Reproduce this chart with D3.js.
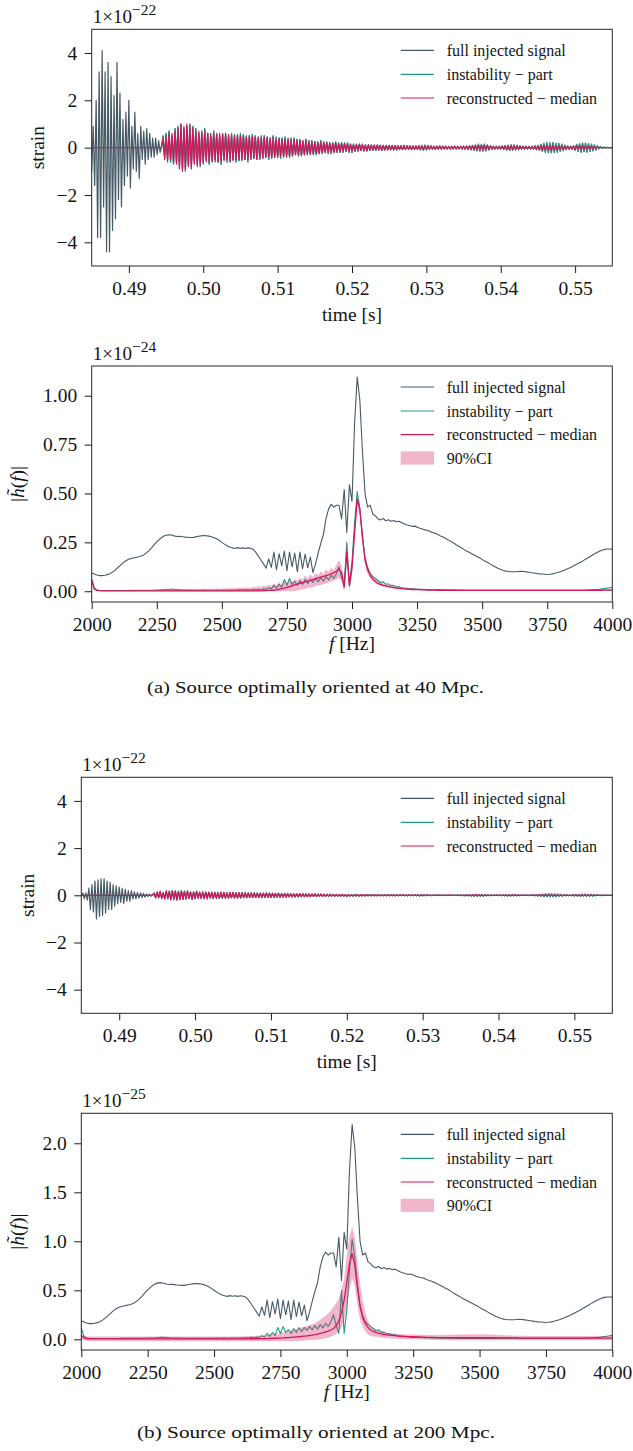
<!DOCTYPE html>
<html>
<head>
<meta charset="utf-8">
<script src="https://cdn.jsdelivr.net/npm/d3@7"></script>
<style>
  html, body { margin: 0; padding: 0; background: #ffffff; }
  svg text { font-family: "Liberation Serif", "Times New Roman", serif; fill: #141414; }
</style>
</head>
<body>
<script>
// ---------------- time-domain strain (units of 1e-22), one sample every strainDt s ----------------
const strainT0 = 0.485;
const strainDt = 0.0002;

// 40 Mpc: signal before the instability onset
const onset40 = [
  -1.0,0.9,-1.6,2.0,-3.8,3.2,-3.8,4.1,-2.5,3.2,-4.4,3.6,
  -4.4,3.0,-3.5,2.2,-3.0,3.6,-2.2,2.3,-2.5,1.2,-1.6,1.5,
  -1.2,2.0,-1.7,0.9,-0.9,1.5,-1.0,0.6,-1.3,0.9,-0.5,0.7,
  -0.7,0.8,-0.5,0.6,-0.4,0.4,-0.4,0.4,-0.3,0.3,-0.2,0.1
];
// 40 Mpc: injected instability part
const inst40 = [
  0,0,0,0,0,0,0,0,0,0,0,0, 0,0,0,0,0,0,0,0,0,0,0,0,
  0,0,0,0,0,0,0,0,0,0,0,0, 0,0,0,0,0,0,0,0,0,0,0,0,
  0.5,-0.4,0.6,-0.5,0.7,-0.6,0.5,-0.7,0.8,-0.6,
  0.9,-0.8,1.0,-0.9,0.8,-1.0,0.9,-0.7,1.0,-0.8,
  0.9,-0.6,0.8,-0.7,0.6,-0.8,0.7,-0.6,0.8,-0.5,
  0.6,-0.7,0.5,-0.6,0.7,-0.5,0.6,-0.6,0.5,-0.7,
  0.6,-0.5,0.6,-0.6,0.5,-0.6,0.6,-0.5,0.55,-0.6,
  0.5,-0.55,0.6,-0.5,0.55,-0.5,0.5,-0.6,0.5,-0.5,
  0.55,-0.45,0.5,-0.5,0.45,-0.5,0.5,-0.45,0.5,-0.4,
  0.45,-0.5,0.4,-0.45,0.5,-0.4,0.45,-0.4,0.4,-0.45,
  0.4,-0.35,0.45,-0.4,0.35,-0.4,0.4,-0.35,0.4,-0.3,
  0.35,-0.35,0.3,-0.35,0.3,-0.3,0.35,-0.3,0.3,-0.25,
  0.3,-0.3,0.25,-0.3,0.25,-0.25,0.3,-0.25,0.25,-0.2,
  0.25,-0.25,0.2,-0.25,0.2,-0.2,0.25,-0.2,0.2,-0.2,
  0.2,-0.2,0.2,-0.15,0.2,-0.2,0.15,-0.2,0.15,-0.15,
  0.15,-0.15,0.15,-0.12,0.15,-0.15,0.12,-0.15,0.12,-0.12,
  0.12,-0.12,0.1,-0.12,0.12,-0.1,0.1,-0.12,0.1,-0.1,
  0.1,-0.1,0.1,-0.08,0.1,-0.1,0.08,-0.1,0.08,-0.08,
  0.08,-0.08,0.1,-0.08,0.08,-0.07,0.08,-0.08,0.07,-0.08,
  0.07,-0.08,0.08,-0.1,0.1,-0.11,0.11,-0.1,0.1,-0.08,
  0.08,-0.07,0.06,-0.07,0.06,-0.06,0.07,-0.06,0.06,-0.05,
  0.06,-0.05,0.05,-0.06,0.05,-0.05,0.06,-0.05,0.05,-0.05,
  0.05,-0.06,0.06,-0.07,0.07,-0.08,0.08,-0.09,0.1,-0.12,
  0.12,-0.14,0.15,-0.15,0.14,-0.15,0.15,-0.14,0.12,-0.1,
  0.08,-0.07,0.06,-0.06,0.06,-0.05,0.06,-0.06,0.07,-0.08,
  0.09,-0.1,0.11,-0.12,0.12,-0.11,0.12,-0.1,0.1,-0.09,
  0.08,-0.07,0.06,-0.06,0.06,-0.05,0.05,-0.06,0.06,-0.07,
  0.08,-0.09,0.1,-0.12,0.14,-0.16,0.18,-0.2,0.21,-0.21,
  0.2,-0.21,0.21,-0.2,0.18,-0.2,0.18,-0.16,0.15,-0.13,
  0.11,-0.09,0.08,-0.07,0.06,-0.07,0.08,-0.11,0.14,-0.16,
  0.17,-0.19,0.19,-0.17,0.19,-0.19,0.17,-0.16,0.15,-0.14,
  0.12,-0.1,0.08,-0.05,0.04,-0.03,0.02,-0.01,0.01,0,
  0,0,0
];
// 40 Mpc: reconstructed median
const rec40 = [
  0,0,0,0,0,0,0,0,0,0,0,0, 0,0,0,0,0,0,0,0,0,0,0,0,
  0,0,0,0,0,0,0,0,0,0,0,0, 0,0,0,0,0,0,0,0,0,0,0,0,
  0.4,-0.5,0.5,-0.6,0.6,-0.5,0.6,-0.6,0.7,-0.7,
  0.8,-0.9,1.0,-1.0,0.9,-0.9,1.0,-0.8,0.9,-0.9,
  0.8,-0.7,0.7,-0.8,0.7,-0.7,0.6,-0.7,0.7,-0.6,
  0.6,-0.6,0.6,-0.55,0.6,-0.6,0.55,-0.6,0.6,-0.55,
  0.55,-0.55,0.6,-0.5,0.55,-0.55,0.5,-0.55,0.5,-0.5,
  0.55,-0.5,0.5,-0.55,0.5,-0.5,0.45,-0.5,0.5,-0.45,
  0.5,-0.45,0.45,-0.5,0.45,-0.45,0.4,-0.45,0.45,-0.4,
  0.45,-0.4,0.4,-0.4,0.45,-0.4,0.35,-0.4,0.4,-0.35,
  0.35,-0.4,0.35,-0.35,0.4,-0.35,0.3,-0.35,0.35,-0.3,
  0.3,-0.3,0.35,-0.3,0.25,-0.3,0.3,-0.25,0.25,-0.3,
  0.25,-0.25,0.25,-0.25,0.2,-0.25,0.25,-0.2,0.2,-0.2,
  0.2,-0.2,0.2,-0.2,0.18,-0.2,0.2,-0.18,0.15,-0.18,
  0.18,-0.15,0.15,-0.15,0.15,-0.15,0.15,-0.12,0.12,-0.15,
  0.12,-0.12,0.15,-0.12,0.12,-0.12,0.1,-0.12,0.12,-0.1,
  0.1,-0.1,0.12,-0.1,0.1,-0.1,0.1,-0.1,0.08,-0.1,
  0.1,-0.08,0.08,-0.1,0.08,-0.08,0.1,-0.08,0.08,-0.08,
  0.08,-0.08,0.07,-0.08,0.08,-0.07,0.07,-0.08,0.07,-0.07,
  0.07,-0.07,0.08,-0.07,0.07,-0.08,0.07,-0.07,0.07,-0.06,
  0.07,-0.06,0.06,-0.07,0.06,-0.06,0.07,-0.06,0.06,-0.06,
  0.06,-0.06,0.05,-0.06,0.06,-0.05,0.06,-0.05,0.05,-0.06,
  0.05,-0.05,0.06,-0.05,0.05,-0.06,0.06,-0.07,0.07,-0.08,
  0.08,-0.09,0.1,-0.1,0.09,-0.1,0.1,-0.09,0.08,-0.07,
  0.06,-0.06,0.05,-0.05,0.05,-0.05,0.05,-0.05,0.06,-0.06,
  0.07,-0.08,0.08,-0.09,0.09,-0.08,0.08,-0.07,0.07,-0.06,
  0.06,-0.05,0.05,-0.05,0.05,-0.05,0.05,-0.05,0.05,-0.05,
  0.06,-0.06,0.07,-0.08,0.09,-0.1,0.1,-0.1,0.1,-0.1,
  0.1,-0.1,0.1,-0.1,0.09,-0.09,0.08,-0.08,0.07,-0.07,
  0.06,-0.06,0.05,-0.05,0.05,-0.05,0.06,-0.07,0.08,-0.08,
  0.09,-0.09,0.09,-0.08,0.08,-0.08,0.07,-0.06,0.06,-0.05,
  0.04,-0.03,0.03,-0.02,0.02,-0.01,0.01,0,0,0,
  0,0,0
];

// 200 Mpc: signal before the instability onset
const onset200 = [
  -0.05,0.1,-0.15,0.1,-0.2,0.3,-0.6,0.45,-0.7,0.6,-1.0,0.65,
  -0.9,0.7,-0.85,0.7,-0.75,0.6,-0.6,0.55,-0.6,0.45,-0.45,0.4,
  -0.35,0.35,-0.3,0.3,-0.35,0.25,-0.25,0.2,-0.25,0.2,-0.15,0.15,
  -0.15,0.12,-0.12,0.1,-0.1,0.08,-0.08,0.06,-0.05,0.05,-0.04,0.03
];
// 200 Mpc: injected instability part
const inst200 = [
  0,0,0,0,0,0,0,0,0,0,0,0, 0,0,0,0,0,0,0,0,0,0,0,0,
  0,0,0,0,0,0,0,0,0,0,0,0, 0,0,0,0,0,0,0,0,0,0,0,0,
  0.1,-0.08,0.12,-0.1,0.14,-0.12,0.1,-0.14,0.16,-0.12,
  0.18,-0.16,0.2,-0.18,0.16,-0.2,0.18,-0.14,0.2,-0.16,
  0.18,-0.12,0.16,-0.14,0.12,-0.16,0.14,-0.12,0.16,-0.1,
  0.12,-0.14,0.1,-0.12,0.14,-0.1,0.12,-0.12,0.1,-0.14,
  0.12,-0.1,0.12,-0.12,0.1,-0.12,0.12,-0.1,0.11,-0.12,
  0.1,-0.11,0.12,-0.1,0.11,-0.1,0.1,-0.12,0.1,-0.1,
  0.11,-0.09,0.1,-0.1,0.09,-0.1,0.1,-0.09,0.1,-0.08,
  0.09,-0.1,0.08,-0.09,0.1,-0.08,0.09,-0.08,0.08,-0.09,
  0.08,-0.07,0.09,-0.08,0.07,-0.08,0.08,-0.07,0.08,-0.06,
  0.07,-0.07,0.06,-0.07,0.06,-0.06,0.07,-0.06,0.06,-0.05,
  0.06,-0.06,0.05,-0.06,0.05,-0.05,0.06,-0.05,0.05,-0.04,
  0.05,-0.05,0.04,-0.05,0.04,-0.04,0.05,-0.04,0.04,-0.04,
  0.04,-0.04,0.04,-0.03,0.04,-0.04,0.03,-0.04,0.03,-0.03,
  0.03,-0.03,0.03,-0.02,0.03,-0.03,0.02,-0.03,0.02,-0.02,
  0.02,-0.02,0.02,-0.02,0.02,-0.02,0.02,-0.02,0.02,-0.02,
  0.02,-0.02,0.02,-0.02,0.02,-0.02,0.02,-0.02,0.02,-0.02,
  0.02,-0.02,0.02,-0.01,0.02,-0.02,0.01,-0.02,0.02,-0.01,
  0.01,-0.02,0.02,-0.02,0.02,-0.03,0.03,-0.02,0.02,-0.02,
  0.02,-0.01,0.01,-0.01,0.01,-0.01,0.01,-0.01,0.01,-0.01,
  0.01,-0.01,0.01,-0.01,0.01,-0.01,0.01,-0.01,0.01,-0.01,
  0.01,-0.01,0.01,-0.02,0.02,-0.02,0.02,-0.02,0.02,-0.03,
  0.03,-0.04,0.04,-0.04,0.04,-0.04,0.04,-0.04,0.03,-0.02,
  0.02,-0.02,0.01,-0.01,0.01,-0.01,0.01,-0.01,0.01,-0.02,
  0.02,-0.02,0.03,-0.03,0.03,-0.03,0.03,-0.02,0.02,-0.02,
  0.02,-0.02,0.01,-0.01,0.01,-0.01,0.01,-0.01,0.01,-0.01,
  0.02,-0.02,0.02,-0.03,0.04,-0.04,0.05,-0.06,0.06,-0.06,
  0.06,-0.06,0.06,-0.06,0.05,-0.06,0.05,-0.04,0.04,-0.04,
  0.03,-0.02,0.02,-0.02,0.01,-0.02,0.02,-0.03,0.04,-0.04,
  0.04,-0.05,0.05,-0.04,0.05,-0.05,0.04,-0.04,0.04,-0.04,
  0.03,-0.02,0.02,-0.01,0.01,-0.01,0,0,0,0,
  0,0,0
];
// 200 Mpc: reconstructed median
const rec200 = [
  0,0,0,0,0,0,0,0,0,0,0,0, 0,0,0,0,0,0,0,0,0,0,0,0,
  0,0,0,0,0,0,0,0,0,0,0,0, 0,0,0,0,0,0,0,0,0,0,0,0,
  0.08,-0.12,0.15,-0.1,0.18,-0.14,0.12,-0.16,0.2,-0.15,
  0.16,-0.2,0.18,-0.15,0.2,-0.18,0.14,-0.2,0.17,-0.18,
  0.15,-0.17,0.2,-0.12,0.16,-0.18,0.13,-0.15,0.18,-0.14,
  0.14,-0.12,0.16,-0.15,0.12,-0.16,0.14,-0.1,0.15,-0.13,
  0.12,-0.14,0.1,-0.13,0.14,-0.11,0.12,-0.14,0.1,-0.12,
  0.13,-0.1,0.12,-0.12,0.1,-0.13,0.11,-0.1,0.12,-0.1,
  0.1,-0.11,0.09,-0.1,0.11,-0.09,0.1,-0.1,0.08,-0.1,
  0.09,-0.08,0.1,-0.08,0.09,-0.09,0.08,-0.09,0.09,-0.07,
  0.08,-0.08,0.07,-0.08,0.08,-0.07,0.07,-0.08,0.06,-0.07,
  0.07,-0.06,0.07,-0.06,0.06,-0.07,0.06,-0.05,0.06,-0.06,
  0.05,-0.06,0.06,-0.05,0.05,-0.05,0.05,-0.05,0.04,-0.05,
  0.05,-0.04,0.05,-0.04,0.04,-0.05,0.04,-0.04,0.04,-0.04,
  0.04,-0.04,0.03,-0.04,0.04,-0.03,0.03,-0.04,0.03,-0.03,
  0.03,-0.03,0.03,-0.03,0.03,-0.03,0.03,-0.02,0.03,-0.03,
  0.03,-0.02,0.02,-0.03,0.02,-0.02,0.03,-0.02,0.02,-0.02,
  0.02,-0.02,0.02,-0.02,0.02,-0.02,0.02,-0.02,0.02,-0.02,
  0.02,-0.02,0.02,-0.02,0.02,-0.01,0.02,-0.02,0.02,-0.02,
  0.02,-0.02,0.02,-0.02,0.02,-0.02,0.02,-0.02,0.02,-0.01,
  0.02,-0.01,0.01,-0.02,0.01,-0.01,0.02,-0.01,0.01,-0.01,
  0.01,-0.01,0.01,-0.01,0.02,-0.01,0.01,-0.01,0.01,-0.01,
  0.01,-0.01,0.01,-0.01,0.01,-0.02,0.02,-0.02,0.02,-0.02,
  0.02,-0.02,0.03,-0.02,0.02,-0.03,0.02,-0.02,0.02,-0.02,
  0.01,-0.01,0.01,-0.01,0.01,-0.01,0.01,-0.01,0.01,-0.01,
  0.02,-0.02,0.02,-0.02,0.02,-0.02,0.02,-0.02,0.02,-0.01,
  0.01,-0.01,0.01,-0.01,0.01,-0.01,0.01,-0.01,0.01,-0.01,
  0.01,-0.01,0.02,-0.02,0.02,-0.02,0.02,-0.02,0.02,-0.02,
  0.02,-0.02,0.02,-0.02,0.02,-0.02,0.02,-0.02,0.02,-0.02,
  0.01,-0.01,0.01,-0.01,0.01,-0.01,0.02,-0.02,0.02,-0.02,
  0.02,-0.02,0.02,-0.02,0.02,-0.02,0.02,-0.01,0.01,-0.01,
  0.01,-0.01,0.01,-0.01,0.01,0,0,0,0,0,
  0,0,0
];

// ---------------- amplitude spectra |h(f)|, one value every specDf Hz from specF0 ----------------
const specF0 = 2000;
const specDf = 10;

// 40 Mpc, units of 1e-24
const specFull40 = [
  0.095,0.088,0.083,0.080,0.080,0.082,0.085,0.090,0.098,0.108,
  0.120,0.132,0.145,0.155,0.162,0.167,0.170,0.173,0.176,0.180,
  0.186,0.196,0.208,0.222,0.238,0.252,0.265,0.276,0.284,0.288,
  0.289,0.286,0.282,0.280,0.281,0.279,0.277,0.276,0.275,0.275,
  0.278,0.281,0.283,0.285,0.284,0.282,0.279,0.274,0.268,0.260,
  0.250,0.241,0.233,0.226,0.222,0.219,0.223,0.220,0.222,0.219,
  0.222,0.220,0.215,0.200,0.180,0.160,0.140,0.118,0.165,0.122,
  0.200,0.110,0.192,0.130,0.205,0.105,0.200,0.125,0.195,0.100,
  0.200,0.115,0.190,0.120,0.175,0.095,0.140,0.195,0.245,0.290,
  0.370,0.420,0.445,0.430,0.440,0.440,0.370,0.520,0.300,0.545,
  0.460,0.860,1.095,0.980,0.720,0.500,0.430,0.440,0.395,0.385,
  0.370,0.365,0.372,0.360,0.366,0.358,0.362,0.355,0.358,0.352,
  0.345,0.340,0.336,0.332,0.333,0.328,0.322,0.318,0.314,0.312,
  0.305,0.300,0.296,0.290,0.283,0.277,0.270,0.262,0.255,0.247,
  0.238,0.230,0.222,0.214,0.206,0.199,0.192,0.185,0.178,0.171,
  0.163,0.155,0.148,0.140,0.132,0.125,0.118,0.112,0.107,0.103,
  0.101,0.100,0.100,0.100,0.101,0.102,0.101,0.099,0.097,0.095,
  0.093,0.091,0.089,0.088,0.087,0.086,0.087,0.089,0.092,0.096,
  0.100,0.105,0.110,0.116,0.122,0.129,0.136,0.143,0.150,0.158,
  0.166,0.174,0.182,0.190,0.197,0.204,0.210,0.214,0.216,0.216,
  0.215
];
const specInst40 = [
  0.060,0.015,0.006,0.004,0.004,0.004,0.004,0.004,0.004,0.004,
  0.004,0.004,0.004,0.004,0.004,0.005,0.005,0.005,0.005,0.005,
  0.005,0.005,0.005,0.005,0.005,0.006,0.006,0.007,0.008,0.009,
  0.010,0.010,0.009,0.008,0.007,0.006,0.006,0.006,0.005,0.005,
  0.005,0.005,0.005,0.006,0.005,0.005,0.005,0.005,0.006,0.005,
  0.005,0.006,0.005,0.006,0.006,0.005,0.006,0.007,0.006,0.007,
  0.008,0.006,0.009,0.007,0.010,0.008,0.012,0.010,0.018,0.012,
  0.030,0.015,0.035,0.020,0.060,0.030,0.065,0.035,0.050,0.030,
  0.055,0.035,0.060,0.040,0.060,0.045,0.065,0.048,0.070,0.052,
  0.075,0.058,0.082,0.065,0.090,0.125,0.070,0.030,0.250,0.030,
  0.150,0.350,0.510,0.420,0.280,0.170,0.120,0.090,0.075,0.065,
  0.055,0.045,0.048,0.036,0.038,0.028,0.030,0.022,0.024,0.018,
  0.016,0.015,0.013,0.012,0.011,0.010,0.010,0.009,0.009,0.008,
  0.008,0.008,0.007,0.007,0.007,0.007,0.006,0.006,0.006,0.006,
  0.006,0.006,0.006,0.005,0.005,0.005,0.005,0.005,0.005,0.005,
  0.005,0.005,0.005,0.005,0.005,0.005,0.005,0.005,0.005,0.005,
  0.005,0.005,0.005,0.005,0.005,0.005,0.005,0.005,0.005,0.005,
  0.005,0.005,0.005,0.005,0.005,0.005,0.005,0.005,0.005,0.005,
  0.005,0.005,0.005,0.005,0.005,0.005,0.005,0.005,0.005,0.005,
  0.006,0.006,0.007,0.008,0.009,0.010,0.012,0.014,0.016,0.018,
  0.020
];
const specRec40 = [
  0.058,0.012,0.004,0.003,0.002,0.002,0.002,0.002,0.002,0.002,
  0.002,0.002,0.002,0.002,0.002,0.002,0.002,0.002,0.002,0.002,
  0.002,0.002,0.002,0.002,0.002,0.002,0.002,0.002,0.002,0.002,
  0.002,0.002,0.002,0.002,0.002,0.002,0.002,0.002,0.002,0.002,
  0.002,0.002,0.002,0.002,0.002,0.002,0.002,0.002,0.002,0.002,
  0.002,0.002,0.002,0.002,0.002,0.002,0.002,0.002,0.002,0.002,
  0.002,0.002,0.002,0.002,0.002,0.002,0.003,0.003,0.004,0.004,
  0.005,0.007,0.010,0.013,0.016,0.020,0.024,0.028,0.032,0.036,
  0.040,0.044,0.048,0.052,0.056,0.060,0.064,0.068,0.072,0.076,
  0.080,0.084,0.089,0.095,0.102,0.112,0.095,0.020,0.200,0.030,
  0.120,0.300,0.470,0.420,0.280,0.160,0.110,0.080,0.062,0.050,
  0.040,0.035,0.030,0.027,0.024,0.021,0.019,0.017,0.015,0.013,
  0.012,0.011,0.010,0.009,0.009,0.008,0.008,0.007,0.007,0.006,
  0.006,0.006,0.006,0.005,0.005,0.005,0.005,0.005,0.005,0.005,
  0.004,0.004,0.004,0.004,0.004,0.004,0.004,0.004,0.004,0.004,
  0.004,0.004,0.004,0.004,0.004,0.004,0.004,0.004,0.004,0.004,
  0.004,0.004,0.004,0.004,0.004,0.004,0.004,0.004,0.004,0.004,
  0.004,0.004,0.004,0.004,0.004,0.004,0.004,0.004,0.004,0.004,
  0.004,0.004,0.004,0.004,0.004,0.004,0.004,0.004,0.004,0.004,
  0.004,0.004,0.004,0.005,0.005,0.005,0.005,0.006,0.006,0.006,
  0.007
];
const specLo40 = [
  0.035,0.006,0.001,0,0,0,0,0,0,0,
  0,0,0,0,0,0,0,0,0,0,
  0,0,0,0,0,0,0,0,0,0,
  0,0,0,0,0,0,0,0,0,0,
  0,0,0,0,0,0,0,0,0,0,
  0,0,0,0,0,0,0,0,0,0,
  0,0,0,0,0,0,0,0,0,0,
  0,0,0,0,0,0,0,0,0.002,0.004,
  0.006,0.010,0.012,0.016,0.018,0.022,0.025,0.030,0.032,0.036,
  0.040,0.045,0.048,0.055,0.060,0.068,0.050,0.000,0.150,0.000,
  0.080,0.260,0.440,0.390,0.250,0.140,0.090,0.065,0.050,0.040,
  0.031,0.027,0.023,0.020,0.018,0.016,0.014,0.012,0.011,0.010,
  0.009,0.008,0.007,0.007,0.006,0.006,0.005,0.005,0.005,0.004,
  0.004,0.004,0.003,0.003,0.003,0.003,0.003,0.003,0.002,0.002,
  0.002,0.002,0.002,0.002,0.002,0.002,0.002,0.002,0.002,0.002,
  0.002,0.002,0.002,0.002,0.002,0.002,0.002,0.002,0.002,0.002,
  0.002,0.002,0.002,0.002,0.002,0.002,0.002,0.002,0.002,0.002,
  0.002,0.002,0.002,0.002,0.002,0.002,0.002,0.002,0.002,0.002,
  0.002,0.002,0.002,0.002,0.002,0.002,0.002,0.002,0.002,0.002,
  0.002,0.002,0.002,0.002,0.002,0.002,0.002,0.002,0.002,0.002,
  0.003
];
const specHi40 = [
  0.068,0.022,0.010,0.007,0.006,0.006,0.006,0.006,0.006,0.006,
  0.006,0.006,0.006,0.006,0.006,0.006,0.006,0.006,0.006,0.006,
  0.006,0.006,0.007,0.007,0.008,0.008,0.009,0.010,0.011,0.012,
  0.012,0.013,0.012,0.011,0.012,0.011,0.012,0.011,0.012,0.011,
  0.012,0.011,0.013,0.012,0.013,0.012,0.014,0.012,0.014,0.013,
  0.015,0.013,0.016,0.014,0.017,0.015,0.018,0.016,0.019,0.017,
  0.021,0.018,0.023,0.020,0.026,0.022,0.029,0.025,0.033,0.028,
  0.040,0.032,0.046,0.036,0.052,0.042,0.058,0.047,0.064,0.053,
  0.072,0.060,0.080,0.066,0.087,0.073,0.094,0.080,0.102,0.088,
  0.112,0.098,0.122,0.108,0.135,0.160,0.130,0.060,0.265,0.070,
  0.170,0.345,0.500,0.455,0.315,0.190,0.135,0.100,0.078,0.064,
  0.052,0.046,0.040,0.036,0.032,0.029,0.026,0.024,0.022,0.020,
  0.019,0.018,0.017,0.016,0.015,0.014,0.014,0.013,0.013,0.012,
  0.012,0.011,0.011,0.011,0.010,0.010,0.010,0.010,0.009,0.009,
  0.009,0.009,0.009,0.009,0.009,0.009,0.009,0.009,0.009,0.009,
  0.009,0.009,0.009,0.009,0.009,0.009,0.009,0.009,0.009,0.009,
  0.009,0.009,0.009,0.009,0.009,0.009,0.009,0.009,0.009,0.009,
  0.009,0.009,0.009,0.009,0.009,0.009,0.009,0.009,0.009,0.009,
  0.009,0.009,0.009,0.009,0.009,0.009,0.009,0.009,0.009,0.009,
  0.009,0.009,0.009,0.009,0.010,0.010,0.010,0.011,0.011,0.011,
  0.012
];

// 200 Mpc, units of 1e-25
const specFull200 = [
  0.190,0.176,0.166,0.160,0.160,0.164,0.170,0.180,0.196,0.216,
  0.240,0.264,0.290,0.310,0.324,0.334,0.340,0.346,0.352,0.360,
  0.372,0.392,0.416,0.444,0.476,0.504,0.530,0.552,0.568,0.576,
  0.578,0.572,0.564,0.560,0.562,0.558,0.554,0.552,0.550,0.550,
  0.556,0.562,0.566,0.570,0.568,0.564,0.558,0.548,0.536,0.520,
  0.500,0.482,0.466,0.452,0.444,0.438,0.446,0.440,0.444,0.438,
  0.444,0.440,0.430,0.400,0.360,0.320,0.280,0.236,0.330,0.244,
  0.400,0.220,0.384,0.260,0.410,0.210,0.400,0.250,0.390,0.200,
  0.400,0.230,0.380,0.240,0.350,0.190,0.280,0.390,0.490,0.580,
  0.740,0.840,0.890,0.860,0.880,0.880,0.740,1.040,0.600,1.090,
  0.920,1.720,2.190,1.960,1.440,1.000,0.860,0.880,0.790,0.770,
  0.740,0.730,0.744,0.720,0.732,0.716,0.724,0.710,0.716,0.704,
  0.690,0.680,0.672,0.664,0.666,0.656,0.644,0.636,0.628,0.624,
  0.610,0.600,0.592,0.580,0.566,0.554,0.540,0.524,0.510,0.494,
  0.476,0.460,0.444,0.428,0.412,0.398,0.384,0.370,0.356,0.342,
  0.326,0.310,0.296,0.280,0.264,0.250,0.236,0.224,0.214,0.206,
  0.202,0.200,0.200,0.200,0.202,0.204,0.202,0.198,0.194,0.190,
  0.186,0.182,0.178,0.176,0.174,0.172,0.174,0.178,0.184,0.192,
  0.200,0.210,0.220,0.232,0.244,0.258,0.272,0.286,0.300,0.316,
  0.332,0.348,0.364,0.380,0.394,0.408,0.420,0.428,0.432,0.432,
  0.430
];
const specInst200 = [
  0.120,0.030,0.012,0.008,0.008,0.008,0.008,0.008,0.008,0.008,
  0.008,0.008,0.008,0.008,0.008,0.010,0.010,0.010,0.010,0.010,
  0.010,0.010,0.010,0.010,0.010,0.012,0.012,0.014,0.016,0.018,
  0.020,0.020,0.018,0.016,0.014,0.012,0.012,0.012,0.010,0.010,
  0.010,0.010,0.010,0.012,0.010,0.010,0.010,0.010,0.012,0.010,
  0.010,0.012,0.010,0.012,0.012,0.010,0.012,0.014,0.012,0.014,
  0.016,0.012,0.018,0.014,0.020,0.016,0.024,0.020,0.036,0.024,
  0.060,0.030,0.070,0.040,0.120,0.060,0.130,0.070,0.100,0.060,
  0.110,0.070,0.120,0.080,0.120,0.090,0.130,0.096,0.140,0.104,
  0.150,0.116,0.164,0.130,0.180,0.250,0.140,0.060,0.500,0.060,
  0.300,0.700,1.020,0.840,0.560,0.340,0.240,0.180,0.150,0.130,
  0.110,0.090,0.096,0.072,0.076,0.056,0.060,0.044,0.048,0.036,
  0.032,0.030,0.026,0.024,0.022,0.020,0.020,0.018,0.018,0.016,
  0.016,0.016,0.014,0.014,0.014,0.014,0.012,0.012,0.012,0.012,
  0.012,0.012,0.012,0.010,0.010,0.010,0.010,0.010,0.010,0.010,
  0.010,0.010,0.010,0.010,0.010,0.010,0.010,0.010,0.010,0.010,
  0.010,0.010,0.010,0.010,0.010,0.010,0.010,0.010,0.010,0.010,
  0.010,0.010,0.010,0.010,0.010,0.010,0.010,0.010,0.010,0.010,
  0.010,0.010,0.010,0.010,0.010,0.010,0.010,0.010,0.010,0.010,
  0.012,0.012,0.014,0.016,0.018,0.020,0.024,0.028,0.032,0.036,
  0.040
];
const specRec200 = [
  0.035,0.015,0.008,0.006,0.005,0.005,0.005,0.005,0.005,0.005,
  0.005,0.005,0.005,0.005,0.005,0.005,0.005,0.005,0.005,0.005,
  0.005,0.005,0.005,0.005,0.005,0.005,0.005,0.005,0.005,0.005,
  0.005,0.005,0.005,0.005,0.005,0.005,0.005,0.005,0.005,0.005,
  0.005,0.005,0.005,0.005,0.005,0.005,0.005,0.005,0.005,0.005,
  0.005,0.005,0.005,0.005,0.005,0.005,0.005,0.005,0.005,0.005,
  0.005,0.005,0.005,0.005,0.006,0.006,0.006,0.007,0.007,0.007,
  0.008,0.009,0.010,0.011,0.012,0.013,0.014,0.016,0.018,0.020,
  0.022,0.024,0.026,0.029,0.032,0.035,0.039,0.043,0.048,0.054,
  0.060,0.066,0.075,0.084,0.095,0.110,0.140,0.190,0.270,0.400,
  0.580,0.770,0.875,0.760,0.530,0.340,0.220,0.160,0.120,0.095,
  0.080,0.070,0.062,0.056,0.050,0.046,0.042,0.040,0.037,0.035,
  0.033,0.031,0.030,0.028,0.027,0.026,0.025,0.024,0.023,0.022,
  0.020,0.020,0.019,0.019,0.018,0.018,0.017,0.017,0.017,0.016,
  0.016,0.016,0.016,0.016,0.016,0.016,0.016,0.016,0.016,0.016,
  0.016,0.016,0.016,0.016,0.016,0.016,0.016,0.015,0.015,0.015,
  0.014,0.014,0.014,0.014,0.014,0.013,0.013,0.013,0.013,0.013,
  0.012,0.012,0.012,0.012,0.012,0.012,0.012,0.012,0.012,0.012,
  0.012,0.012,0.012,0.012,0.012,0.012,0.012,0.012,0.012,0.012,
  0.012,0.012,0.012,0.012,0.012,0.012,0.012,0.012,0.012,0.012,
  0.012
];
const specLo200 = [
  0.000,-0.010,-0.015,-0.020,-0.020,-0.020,-0.020,-0.020,-0.020,-0.020,
  -0.020,-0.020,-0.020,-0.020,-0.020,-0.020,-0.020,-0.020,-0.020,-0.020,
  -0.020,-0.020,-0.020,-0.020,-0.020,-0.020,-0.020,-0.020,-0.020,-0.020,
  -0.020,-0.020,-0.020,-0.020,-0.020,-0.020,-0.020,-0.020,-0.020,-0.020,
  -0.020,-0.020,-0.020,-0.020,-0.020,-0.020,-0.020,-0.020,-0.020,-0.020,
  -0.020,-0.020,-0.020,-0.020,-0.020,-0.020,-0.020,-0.020,-0.020,-0.020,
  -0.020,-0.020,-0.020,-0.020,-0.020,-0.020,-0.020,-0.020,-0.020,-0.020,
  -0.020,-0.020,-0.020,-0.020,-0.020,-0.020,-0.020,-0.020,-0.020,-0.020,
  -0.020,-0.018,-0.016,-0.014,-0.012,-0.010,-0.008,-0.006,-0.004,-0.002,
  0.000,0.005,0.010,0.018,0.028,0.040,0.055,0.080,0.120,0.200,
  0.330,0.500,0.620,0.550,0.350,0.200,0.130,0.080,0.050,0.035,
  0.030,0.025,0.020,0.017,0.015,0.012,0.010,0.008,0.006,0.005,
  0.004,0.003,0.002,0.001,0.000,0.000,0.000,-0.001,-0.002,-0.003,
  -0.004,-0.005,-0.006,-0.007,-0.008,-0.008,-0.009,-0.010,-0.010,-0.010,
  -0.010,-0.010,-0.010,-0.010,-0.010,-0.010,-0.010,-0.010,-0.010,-0.010,
  -0.010,-0.010,-0.010,-0.010,-0.010,-0.010,-0.010,-0.010,-0.010,-0.010,
  -0.010,-0.010,-0.010,-0.010,-0.010,-0.010,-0.010,-0.010,-0.010,-0.010,
  -0.010,-0.010,-0.010,-0.010,-0.010,-0.010,-0.010,-0.010,-0.010,-0.010,
  -0.010,-0.010,-0.010,-0.010,-0.010,-0.010,-0.010,-0.010,-0.010,-0.010,
  -0.010,-0.010,-0.010,-0.010,-0.010,-0.010,-0.010,-0.010,-0.010,-0.010,
  -0.010
];
const specHi200 = [
  0.050,0.040,0.032,0.030,0.030,0.030,0.030,0.030,0.030,0.030,
  0.030,0.030,0.030,0.030,0.030,0.030,0.030,0.030,0.030,0.030,
  0.030,0.030,0.030,0.030,0.030,0.030,0.030,0.030,0.030,0.030,
  0.030,0.030,0.030,0.030,0.030,0.030,0.030,0.030,0.030,0.030,
  0.030,0.030,0.030,0.030,0.030,0.030,0.030,0.030,0.030,0.030,
  0.030,0.030,0.030,0.030,0.030,0.030,0.030,0.030,0.030,0.030,
  0.030,0.031,0.032,0.033,0.034,0.035,0.036,0.038,0.040,0.042,
  0.045,0.048,0.052,0.056,0.060,0.065,0.070,0.076,0.082,0.090,
  0.098,0.105,0.112,0.120,0.128,0.137,0.146,0.155,0.165,0.180,
  0.200,0.220,0.240,0.265,0.295,0.330,0.370,0.420,0.500,0.620,
  0.860,1.050,1.150,1.050,0.800,0.570,0.400,0.270,0.190,0.140,
  0.110,0.095,0.085,0.078,0.072,0.068,0.064,0.061,0.058,0.056,
  0.054,0.052,0.051,0.050,0.049,0.048,0.047,0.046,0.046,0.045,
  0.045,0.045,0.044,0.044,0.044,0.045,0.045,0.046,0.046,0.047,
  0.047,0.048,0.048,0.049,0.050,0.050,0.051,0.051,0.052,0.052,
  0.052,0.052,0.051,0.050,0.049,0.048,0.046,0.045,0.043,0.042,
  0.041,0.040,0.039,0.038,0.037,0.037,0.036,0.036,0.035,0.035,
  0.035,0.035,0.035,0.035,0.035,0.035,0.035,0.035,0.035,0.035,
  0.035,0.035,0.035,0.035,0.035,0.035,0.035,0.035,0.035,0.035,
  0.035,0.035,0.035,0.035,0.035,0.035,0.035,0.035,0.035,0.035,
  0.035
];

// ---------------- ticks, labels ----------------
const timeTicks = [0.49, 0.50, 0.51, 0.52, 0.53, 0.54, 0.55];
const strainTicks = [-4, -2, 0, 2, 4];
const freqTicks = [2000, 2250, 2500, 2750, 3000, 3250, 3500, 3750, 4000];
const ampTicks40 = [0, 0.25, 0.5, 0.75, 1.0];
const ampTicks200 = [0, 0.5, 1.0, 1.5, 2.0];
const legendLabels = ["full injected signal", "instability \u2212 part", "reconstructed \u2212 median", "90%CI"];
const captions = ["(a) Source optimally oriented at 40 Mpc.", "(b) Source optimally oriented at 200 Mpc."];

// ---------------- drawing ----------------
const COLORS = { full: "#465a66", inst: "#1f9d89", rec: "#d5145a", band: "#d81b60" };
const W = 633, H = 1451;
const svg = d3.select("body").append("svg")
  .attr("width", W).attr("height", H)
  .attr("viewBox", `0 0 ${W} ${H}`);

const strainPoints = vals => vals.map((v, i) => [strainT0 + i * strainDt, v]);
const specPoints = vals => vals.map((v, i) => [specF0 + i * specDf, v]);
const withOnset = (onset, inst) => inst.map((v, i) => (i < onset.length ? onset[i] : v));

let clipCount = 0;

function drawPanel(p) {
  const { l, r, t, b } = p.box;
  const x = d3.scaleLinear().domain(p.xDomain).range([l, r]);
  const y = d3.scaleLinear().domain(p.yDomain).range([b, t]);
  const g = svg.append("g");

  const clipId = "plotclip" + (clipCount++);
  svg.append("clipPath").attr("id", clipId)
    .append("rect").attr("x", l).attr("y", t).attr("width", r - l).attr("height", b - t);
  const plot = g.append("g").attr("clip-path", `url(#${clipId})`);

  const line = d3.line().x(d => x(d[0])).y(d => y(d[1]));
  p.lines.forEach(s => {
    plot.append("path")
      .datum(s.points)
      .attr("d", line)
      .attr("fill", "none")
      .attr("stroke", s.color)
      .attr("stroke-width", s.width)
      .attr("stroke-linejoin", "round");
  });
  if (p.band) {
    const area = d3.area()
      .x((d, i) => x(specF0 + i * specDf))
      .y0(d => y(d[0]))
      .y1(d => y(d[1]));
    const rows = p.band.lo.map((v, i) => [v, p.band.hi[i]]);
    plot.append("path")
      .datum(rows)
      .attr("d", area)
      .attr("fill", COLORS.band)
      .attr("fill-opacity", 0.32)
      .attr("stroke", "none");
  }

  // axes
  const xAxis = d3.axisBottom(x).tickValues(p.xTicks).tickFormat(p.xFmt).tickSize(7).tickPadding(8);
  const yAxis = d3.axisLeft(y).tickValues(p.yTicks).tickFormat(p.yFmt).tickSize(7).tickPadding(7.5);
  const gx = g.append("g").attr("transform", `translate(0,${b})`).call(xAxis);
  const gy = g.append("g").attr("transform", `translate(${l},0)`).call(yAxis);
  [gx, gy].forEach(a => {
    a.select(".domain").remove();
    a.selectAll(".tick line").attr("stroke", "#1a1a1a").attr("stroke-width", 1);
    a.selectAll(".tick text").style("font-size", "19.5px").attr("fill", "#141414");
  });

  // frame
  g.append("rect")
    .attr("x", l).attr("y", t).attr("width", r - l).attr("height", b - t)
    .attr("fill", "none").attr("stroke", "#262626").attr("stroke-width", 1);

  // offset (scale factor) text
  const off = g.append("text").attr("x", l + 1).attr("y", t - 6.5).style("font-size", "19px");
  off.append("tspan").text("1\u00d710");
  off.append("tspan").attr("dy", -8).style("font-size", "15.5px").text(p.exponent);

  // y label
  const yl = g.append("text")
    .attr("transform", `translate(${p.ylabelX},${(t + b) / 2}) rotate(-90)`)
    .attr("text-anchor", "middle")
    .style("font-size", "19.5px");
  if (p.kind === "strain") {
    yl.text("strain");
  } else {
    yl.append("tspan").text("|");
    yl.append("tspan").style("font-style", "italic").text("h\u0303");
    yl.append("tspan").text("(");
    yl.append("tspan").style("font-style", "italic").text("f");
    yl.append("tspan").text(")|");
  }

  // x label
  const xl = g.append("text")
    .attr("x", (l + r) / 2)
    .attr("text-anchor", "middle")
    .style("font-size", "19.5px");
  if (p.kind === "strain") {
    xl.attr("y", b + 55).text("time [s]");
  } else {
    xl.attr("y", b + 48);
    xl.append("tspan").style("font-style", "italic").text("f");
    xl.append("tspan").text(" [Hz]");
  }

  // legend
  const rowsY = [21, 45, 68.7, 92];
  const legend = g.append("g");
  p.legend.forEach((item, i) => {
    const cy = t + rowsY[i];
    if (item.kind === "line") {
      legend.append("line")
        .attr("x1", 400.7).attr("x2", 434).attr("y1", cy).attr("y2", cy)
        .attr("stroke", item.color).attr("stroke-width", 1.2);
    } else {
      legend.append("rect")
        .attr("x", 400.7).attr("y", cy - 6.6).attr("width", 33.3).attr("height", 13.2)
        .attr("fill", COLORS.band).attr("fill-opacity", 0.32);
    }
    legend.append("text")
      .attr("x", 446.7).attr("y", cy + 5.5)
      .style("font-size", "16px")
      .text(item.label);
  });
}

const strainFmt = d3.format("d");
const timeFmt = d3.format(".2f");
const freqFmt = d3.format("d");

const lineLegend = [
  { kind: "line", color: COLORS.full, label: legendLabels[0] },
  { kind: "line", color: COLORS.inst, label: legendLabels[1] },
  { kind: "line", color: COLORS.rec, label: legendLabels[2] }
];
const bandLegend = lineLegend.concat([{ kind: "band", label: legendLabels[3] }]);

// (a) 40 Mpc
drawPanel({
  kind: "strain", box: { l: 91.7, r: 612.3, t: 29.3, b: 266 },
  xDomain: [0.485, 0.555], yDomain: [-5, 5],
  xTicks: timeTicks, yTicks: strainTicks, xFmt: timeFmt, yFmt: strainFmt,
  exponent: "\u221222", ylabelX: 44,
  lines: [
    { points: strainPoints(withOnset(onset40, inst40)), color: COLORS.full, width: 1.2 },
    { points: strainPoints(inst40), color: COLORS.inst, width: 1.2 },
    { points: strainPoints(rec40), color: COLORS.rec, width: 1.2 }
  ],
  legend: lineLegend
});
drawPanel({
  kind: "spec", box: { l: 91.7, r: 612.3, t: 366, b: 602 },
  xDomain: [2000, 4000], yDomain: [-0.055, 1.152],
  xTicks: freqTicks, yTicks: ampTicks40, xFmt: freqFmt, yFmt: d3.format(".2f"),
  exponent: "\u221224", ylabelX: 24,
  lines: [
    { points: specPoints(specFull40), color: COLORS.full, width: 1.1 },
    { points: specPoints(specInst40), color: COLORS.inst, width: 1.1 },
    { points: specPoints(specRec40), color: COLORS.rec, width: 1.3 }
  ],
  band: { lo: specLo40, hi: specHi40 },
  legend: bandLegend
});

// (b) 200 Mpc
drawPanel({
  kind: "strain", box: { l: 81.3, r: 612.3, t: 777.3, b: 1013.3 },
  xDomain: [0.485, 0.555], yDomain: [-5, 5],
  xTicks: timeTicks, yTicks: strainTicks, xFmt: timeFmt, yFmt: strainFmt,
  exponent: "\u221222", ylabelX: 33.5,
  lines: [
    { points: strainPoints(withOnset(onset200, inst200)), color: COLORS.full, width: 1.2 },
    { points: strainPoints(inst200), color: COLORS.inst, width: 1.2 },
    { points: strainPoints(rec200), color: COLORS.rec, width: 1.2 }
  ],
  legend: lineLegend
});
drawPanel({
  kind: "spec", box: { l: 81.3, r: 612.3, t: 1113.3, b: 1350 },
  xDomain: [2000, 4000], yDomain: [-0.109, 2.306],
  xTicks: freqTicks, yTicks: ampTicks200, xFmt: freqFmt, yFmt: d3.format(".1f"),
  exponent: "\u221225", ylabelX: 24,
  lines: [
    { points: specPoints(specFull200), color: COLORS.full, width: 1.1 },
    { points: specPoints(specInst200), color: COLORS.inst, width: 1.1 },
    { points: specPoints(specRec200), color: COLORS.rec, width: 1.3 }
  ],
  band: { lo: specLo200, hi: specHi200 },
  legend: bandLegend
});

// sub-figure captions
svg.append("text").attr("x", 315.5).attr("y", 692.5).attr("text-anchor", "middle")
  .attr("textLength", 337).attr("lengthAdjust", "spacingAndGlyphs")
  .style("font-size", "17px").text(captions[0]);
svg.append("text").attr("x", 316).attr("y", 1438).attr("text-anchor", "middle")
  .attr("textLength", 358).attr("lengthAdjust", "spacingAndGlyphs")
  .style("font-size", "17px").text(captions[1]);
</script>
</body>
</html>
